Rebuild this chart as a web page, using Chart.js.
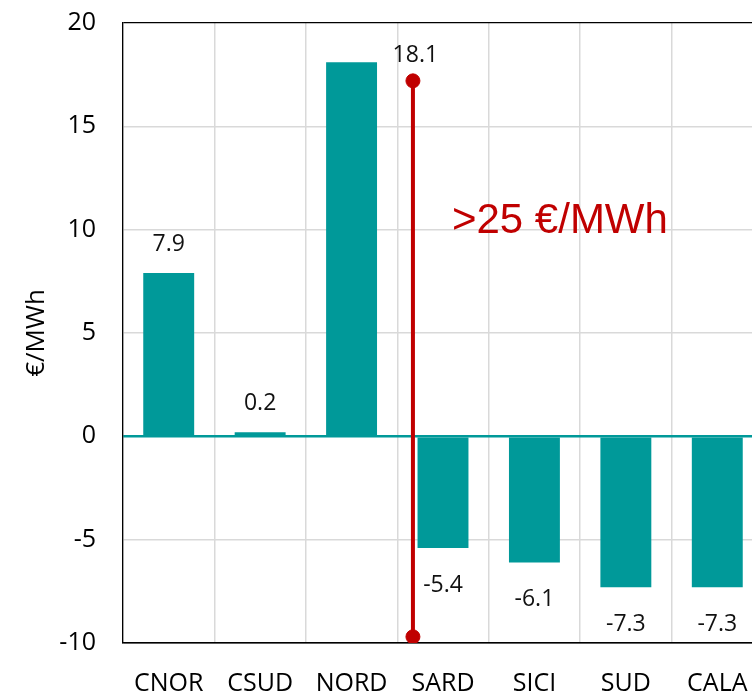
<!DOCTYPE html>
<html>
<head>
<meta charset="utf-8">
<script src="https://cdn.jsdelivr.net/npm/chart.js@4.4.0/dist/chart.umd.min.js"></script>
<style>
  html, body { margin: 0; padding: 0; background: #fff; overflow: hidden; }
  #wrap { position: relative; width: 771px; height: 695px; }
</style>
</head>
<body>
<div id="wrap"><canvas id="chart"></canvas></div>
<script>
// Differenziale per zona (€/MWh)
const zones = ['CNOR', 'CSUD', 'NORD', 'SARD', 'SICI', 'SUD', 'CALA'];
const values = [7.9, 0.2, 18.1, -5.4, -6.1, -7.3, -7.3];
const yTicks = [-10, -5, 0, 5, 10, 15, 20];

// Linea rossa tra NORD e SARD (posizione sull'asse delle zone, estremi)
const spreadX = [2.63, 2.63];
const spreadY = [17.2, -9.7];
const spreadText = '>25 €/MWh';
const spreadTextPos = [3.11, 9.86];
// l'etichetta di NORD è spostata accanto alla linea rossa
const nordLabelPos = [2.66, 18.5];

const TEAL = '#009999';
const RED = '#c00000';
const GRID = '#d9d9d9';
const FONT = "'Open Sans', sans-serif";

// Etichette dei valori e testo rosso
const labelsPlugin = {
  id: 'valueLabels',
  afterDatasetsDraw(chart) {
    const ctx = chart.ctx;
    const x = chart.scales.x;
    const x2 = chart.scales.x2;
    const y = chart.scales.y;
    ctx.save();
    ctx.fillStyle = '#111';
    ctx.font = '23px ' + FONT;
    ctx.textAlign = 'center';
    ctx.textBaseline = 'alphabetic';
    values.forEach((v, i) => {
      let px = x.getPixelForValue(i);
      let cy;
      if (zones[i] === 'NORD') {
        px = x2.getPixelForValue(nordLabelPos[0]);
        cy = y.getPixelForValue(nordLabelPos[1]);
      } else if (v >= 0) {
        cy = y.getPixelForValue(v) - 30;
      } else {
        cy = y.getPixelForValue(v) + 36;
      }
      ctx.fillText(v.toFixed(1), px, cy + 8);
    });

    ctx.fillStyle = RED;
    ctx.font = "42px 'Liberation Sans', Arial, sans-serif";
    ctx.textAlign = 'left';
    ctx.fillText(spreadText, x2.getPixelForValue(spreadTextPos[0]), y.getPixelForValue(spreadTextPos[1]));
    ctx.restore();
  }
};

const ctx = document.getElementById('chart');
new Chart(ctx, {
  type: 'bar',
  data: {
    labels: zones,
    datasets: [
      {
        type: 'line',
        xAxisID: 'x2',
        data: spreadX.map((v, i) => ({ x: v, y: spreadY[i] })),
        borderColor: RED,
        borderWidth: 4,
        pointRadius: 7,
        pointBorderWidth: 1,
        pointBackgroundColor: RED,
        pointBorderColor: RED
      },
      {
        type: 'bar',
        data: values,
        backgroundColor: TEAL,
        borderWidth: 0,
        grouped: false,
        categoryPercentage: 1,
        barPercentage: 0.557
      }
    ]
  },
  options: {
    responsive: true,
    maintainAspectRatio: false,
    animation: false,
    layout: { padding: { top: 23, right: 2.5, left: 0, bottom: 0 } },
    plugins: {
      legend: { display: false },
      tooltip: { enabled: false }
    },
    scales: {
      x: {
        offset: true,
        grid: { color: GRID, lineWidth: 1.5, drawTicks: false, offset: true },
        border: { color: '#000', width: 1.3 },
        ticks: { color: '#000', font: { family: FONT, size: 25 }, padding: 26, maxRotation: 0, autoSkip: false },
        afterFit: s => { s.height = 52; s.paddingLeft = 0; s.paddingRight = 0; }
      },
      x2: {
        type: 'linear',
        display: false,
        min: -0.5,
        max: zones.length - 0.5
      },
      y: {
        min: -10,
        max: 20,
        afterBuildTicks: s => { s.ticks = yTicks.map(v => ({ value: v })); },
        grid: {
          drawTicks: false,
          color: c => c.tick.value === 0 ? TEAL : (c.tick.value === 20 || c.tick.value === -10 ? '#000' : GRID),
          lineWidth: c => c.tick.value === 0 ? 2.5 : (c.tick.value === 20 ? 1.3 : 1.5)
        },
        border: { color: '#000', width: 1.3 },
        ticks: { color: '#000', font: { family: FONT, size: 25 }, padding: 27 },
        title: {
          display: true,
          text: '€/MWh',
          color: '#000',
          font: { family: FONT, size: 26 },
          padding: { top: 21, bottom: 0 }
        },
        afterFit: s => { s.width = 123; s.paddingTop = 0; s.paddingBottom = 0; }
      }
    }
  },
  plugins: [labelsPlugin]
});
</script>
</body>
</html>
